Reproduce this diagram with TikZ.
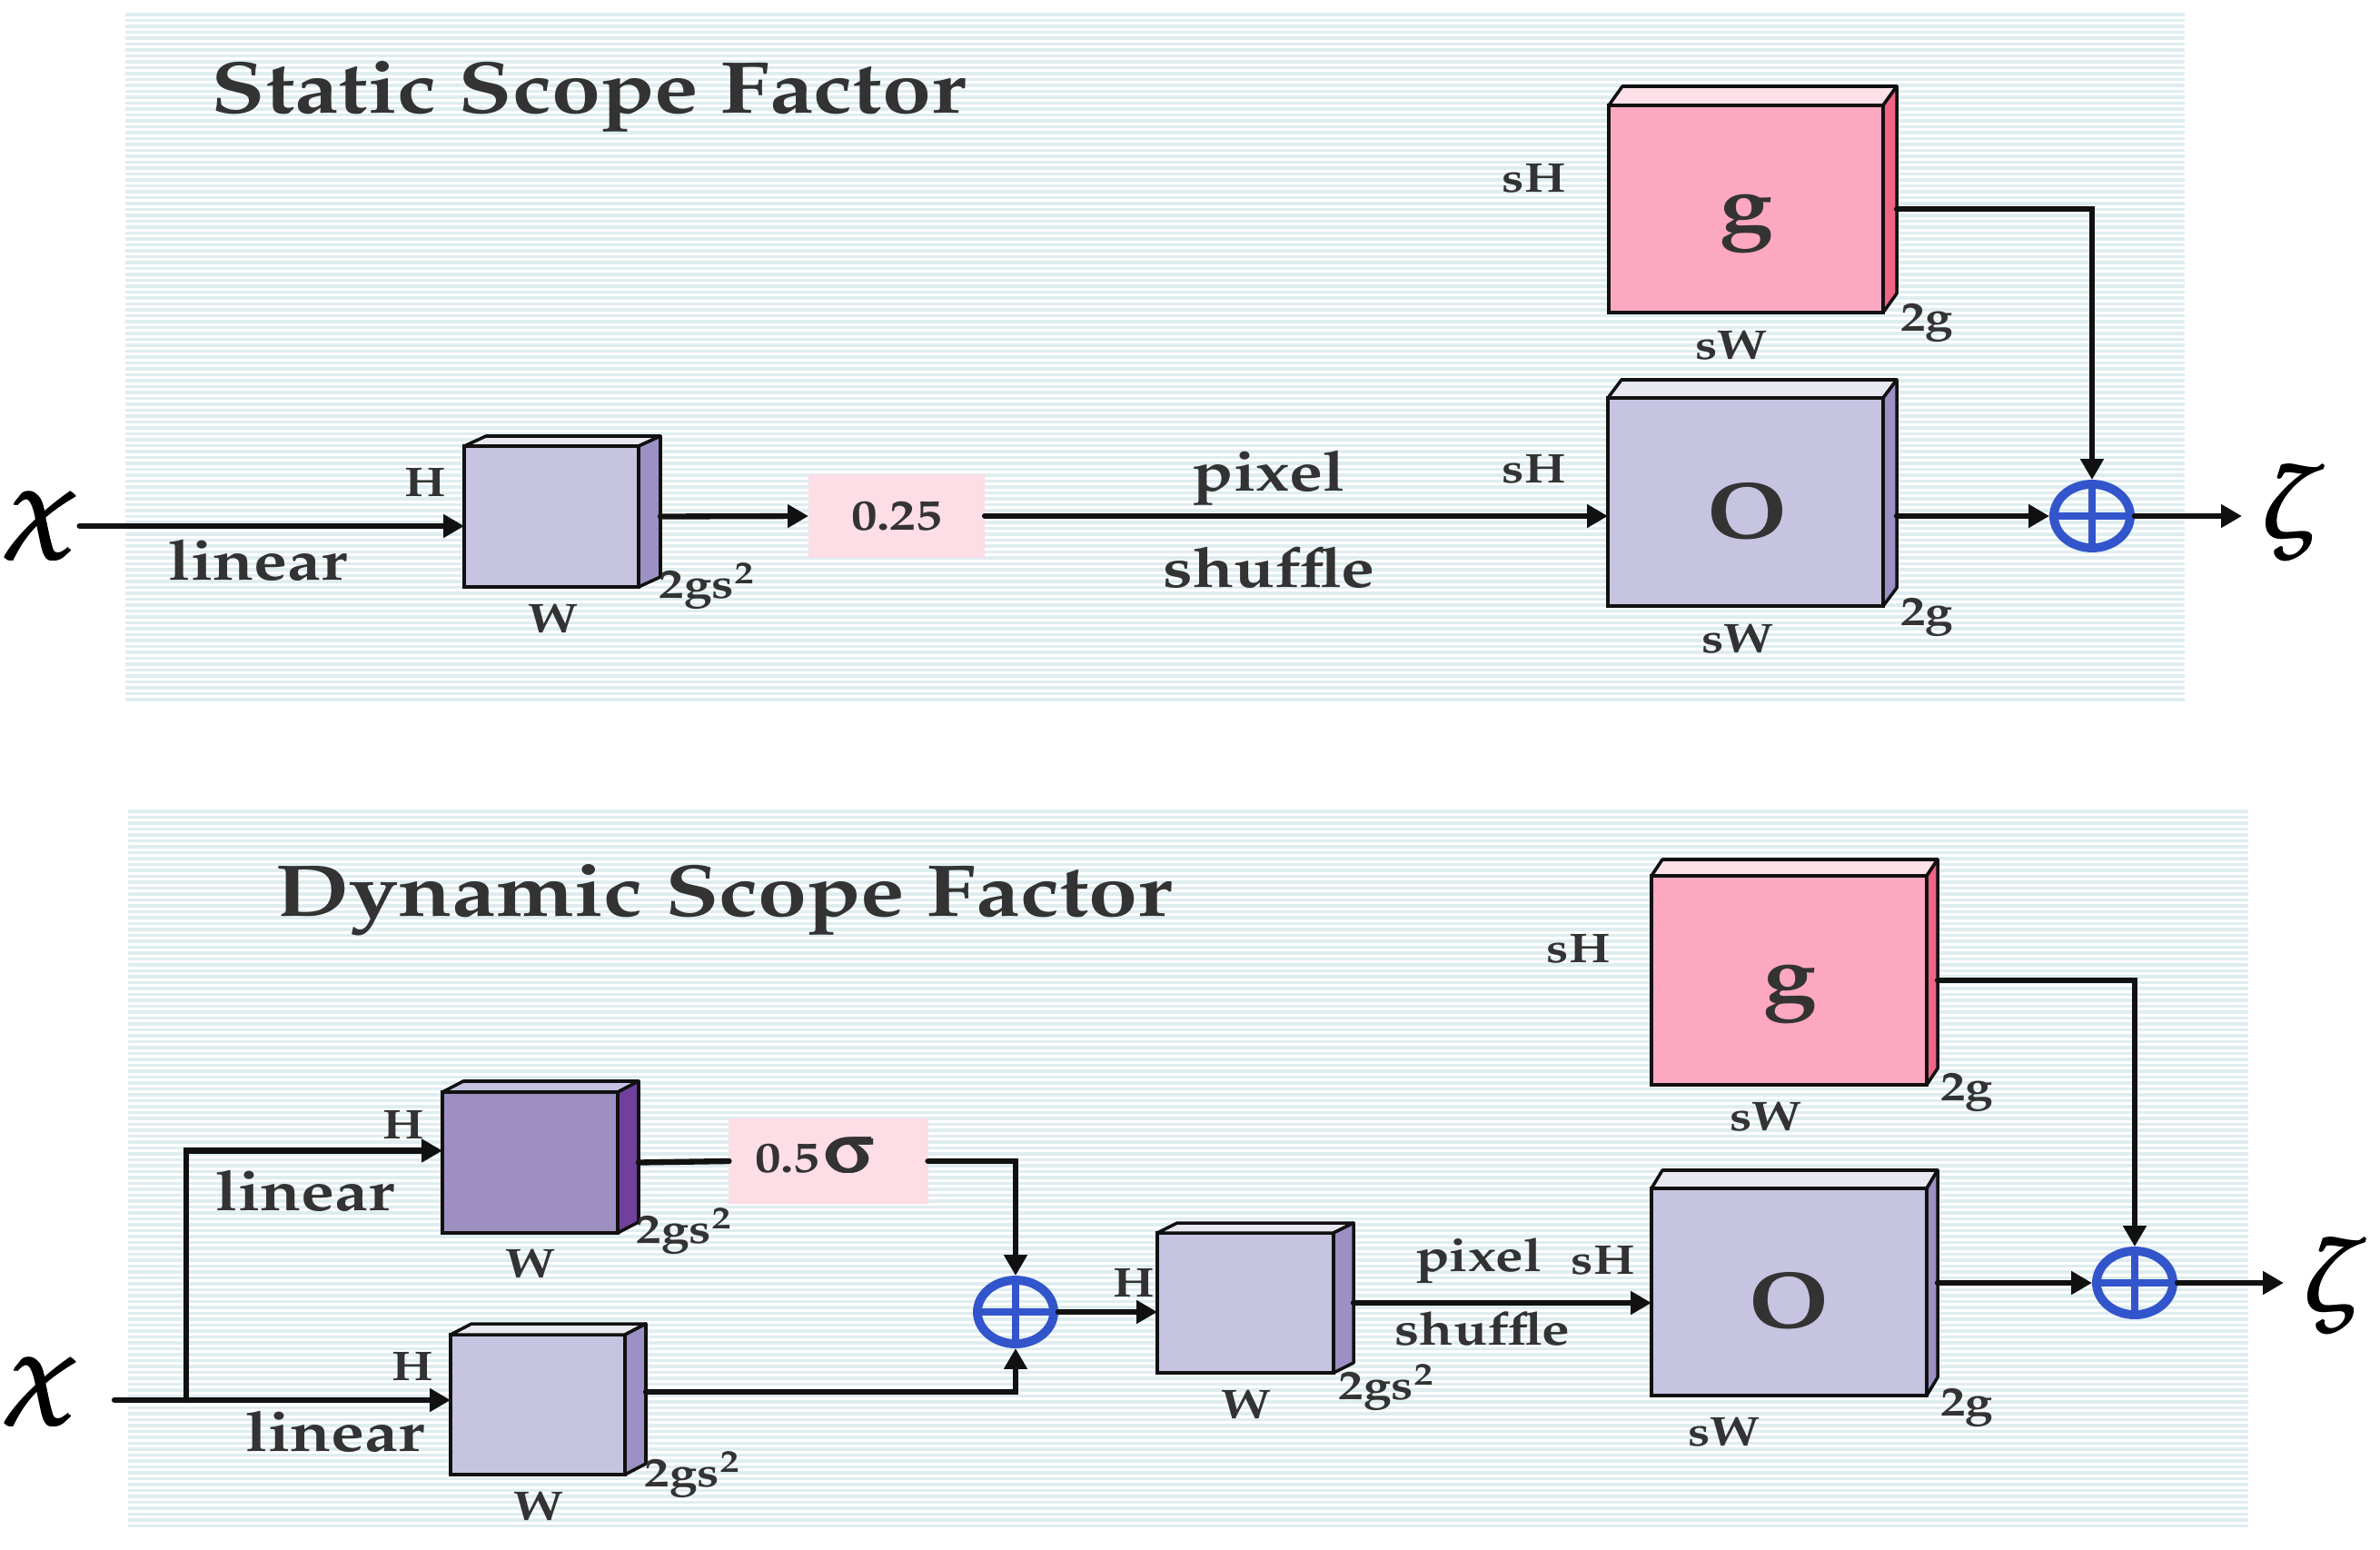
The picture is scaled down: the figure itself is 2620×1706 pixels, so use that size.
\documentclass[tikz,border=0pt]{standalone}
\usepackage[T1]{fontenc}
\usepackage{mathpazo}
\usepackage[Symbol]{upgreek}
\usetikzlibrary{shapes.geometric,arrows.meta,calc}
\definecolor{txc}{HTML}{333333}
\definecolor{lnc}{HTML}{111111}
\definecolor{stripec}{HTML}{DFEDF0}
\definecolor{boxpink}{HTML}{FDDDE6}
\definecolor{opblue}{HTML}{3355CC}
\definecolor{Lfront}{HTML}{C6C4E0}
\definecolor{Ltop}{HTML}{E8E8F0}
\definecolor{Lside}{HTML}{9C90C4}
\definecolor{Dfront}{HTML}{9D8FC0}
\definecolor{Dtop}{HTML}{C6C4E0}
\definecolor{Dside}{HTML}{70409C}
\definecolor{Pfront}{HTML}{FCA8C0}
\definecolor{Ptop}{HTML}{FDE0E8}
\definecolor{Pside}{HTML}{F06484}
\newcommand\hs[1]{\scalebox{1.2}[1]{#1}}
\newcommand\emb[1]{\makebox[0pt][l]{#1}\makebox[0pt][l]{\kern0.6pt#1}\makebox[0pt][l]{\raisebox{0.5pt}{\kern0.3pt#1}}\makebox[0pt][l]{\raisebox{-0.2pt}{\kern0.3pt#1}}\kern0.6pt#1}
\newcommand\mkcube[8]{%
  \node[cubefront, fill=#1front, minimum width=#5*0.01cm, minimum height=#6*0.01cm, anchor=north west] (#2) at (#3,#4) {};
  \filldraw[cubeedge, fill=#1top] (#2.north west) -- ++(#7,-#8) -- ++(#5,0) -- (#2.north east) -- cycle;
  \filldraw[cubeedge, fill=#1side] (#2.north east) -- ++(#7,-#8) -- ++(0,#6) -- (#2.south east) -- cycle;
  \coordinate (#2s) at ($(#2.east)+(#7,0)$);
}
\begin{document}
\begin{tikzpicture}[x=0.01cm,y=-0.01cm,
  arr/.style={line width=1.8pt, draw=lnc, line cap=round, -{Triangle[length=6.5pt,width=7pt]}},
  ln/.style={line width=1.8pt, draw=lnc, line cap=round},
  stripe/.style={draw=stripec, line width=0.95pt},
  cubefront/.style={draw=lnc, line width=1pt, inner sep=0pt, outer sep=0pt},
  cubeedge/.style={draw=lnc, line width=1pt, line join=round},
  lab/.style={text=txc, font=\bfseries\fontsize{13}{15}\selectfont, inner sep=0pt},
  mid/.style={text=txc, font=\bfseries\fontsize{17.5}{20}\selectfont, inner sep=0pt},
  midb/.style={text=txc, font=\bfseries\fontsize{14.5}{17}\selectfont, inner sep=0pt},
  ttl/.style={text=txc, font=\bfseries\fontsize{23}{26}\selectfont, inner sep=0pt},
  big/.style={text=txc, font=\bfseries\fontsize{25}{28}\selectfont, inner sep=0pt},
  num/.style={text=txc, font=\bfseries\fontsize{13.5}{15}\selectfont, inner sep=0pt},
  gkin/.style={text=black, font=\fontsize{30}{32}\selectfont, inner sep=0pt},
  gkout/.style={text=black, font=\fontsize{32}{34}\selectfont, inner xsep=0.2cm, inner ysep=0pt},
  mulbox/.style={fill=boxpink, inner sep=0pt, outer sep=0pt},
  oplus/.style={ellipse, draw=opblue, line width=2.8pt, minimum width=0.84cm, minimum height=0.70cm, inner sep=0pt, outer sep=1.4pt},
  cross/.style={draw=opblue, line width=2.4pt},
]
\useasboundingbox (0,0) rectangle (2620,1706);
% backgrounds
\foreach \i in {0,...,116} \draw[stripe] (138,{16+6.5*\i}) -- (2405,{16+6.5*\i});
\foreach \i in {0,...,121} \draw[stripe] (141,{893+6.5*\i}) -- (2475,{893+6.5*\i});

% ================= TOP PANEL =================
\node[ttl, anchor=base west] (t1) at (232,125) {\hs{Static Scope Factor}};
\node[gkin] (chi1) at (46,579) {\hs{\emb{$\chi$}}};
\mkcube{L}{A}{511}{491}{192}{155}{24}{11}
\node[lab] (A-H) at (468,531) {\hs{H}};
\node[lab] (A-W) at (609,681) {\hs{W}};
\node[lab] (A-C) at (779,645) {\hs{2gs$^{\mathbf 2}$}};
\node[mid] (lin1) at (284,617) {\hs{linear}};
\node[mulbox, minimum width=1.94cm, minimum height=0.92cm] (box1) at (987,568) {};
\node[num] (box1t) at (987,568) {\hs{0.25}};
\node[mid] (pix1) at (1397,526) {\hs{pixel}};
\node[mid] (shu1) at (1397,625) {\hs{shuffle}};
\mkcube{L}{O1}{1770}{438}{303}{229}{15}{20}
\node[big] (O1t) at (1923,562) {\hs{O}};
\node[lab] (O1-H) at (1689,516) {\hs{sH}};
\node[lab] (O1-W) at (1913,703) {\hs{sW}};
\node[lab] (O1-C) at (2121,679) {\hs{2g}};
\mkcube{P}{G1}{1771}{116}{302}{228}{15}{21}
\node[big] (G1t) at (1923,245) {\hs{g}};
\node[lab] (G1-H) at (1689,196) {\hs{sH}};
\node[lab] (G1-W) at (1906,380) {\hs{sW}};
\node[lab] (G1-C) at (2121,355) {\hs{2g}};
\node[oplus] (op1) at (2303,568) {};
\draw[cross] (op1.north) -- (op1.south) (op1.west) -- (op1.east);
\node[gkout] (z1) at (2525,564) {\hs{\emb{$\zeta$}}};
\draw[arr] (chi1.east) -- (chi1.east -| A.west);
\draw[arr] (As) -- (box1.west);
\draw[arr] (box1.east) -- (box1.east -| O1.west);
\draw[arr] (G1s) -| (op1.north);
\draw[arr] (op1.west -| O1s) -- (op1.west);
\draw[arr] (op1.east) -- (op1.east -| z1.west);

% ================= BOTTOM PANEL =================
\node[ttl, anchor=base west] (t2) at (303,1008) {\hs{Dynamic Scope Factor}};
\node[gkin] (chi2) at (46,1532) {\hs{\emb{$\chi$}}};
\mkcube{D}{B}{487}{1202}{193}{155}{23}{12}
\node[lab] (B-H) at (444,1238) {\hs{H}};
\node[lab] (B-W) at (584,1391) {\hs{W}};
\node[lab] (B-C) at (754,1355) {\hs{2gs$^{\mathbf 2}$}};
\node[mid] (lin2) at (336,1311) {\hs{linear}};
\mkcube{L}{C}{496}{1469}{192}{154}{23}{12}
\node[lab] (C-H) at (454,1504) {\hs{H}};
\node[lab] (C-W) at (593,1658) {\hs{W}};
\node[lab] (C-C) at (763,1623) {\hs{2gs$^{\mathbf 2}$}};
\node[mid] (lin3) at (369,1576) {\hs{linear}};
\node[mulbox, minimum width=2.19cm, minimum height=0.93cm] (box2) at (912,1278) {};
\node[num, anchor=base east] (box2a) at (903,1290) {\hs{0.5}};
\node[text=txc, inner sep=0pt, font=\fontsize{21}{22}\selectfont, anchor=base west] (box2b) at (906,1290) {\hs{\emb{$\upsigma$}}};
\node[oplus] (op2) at (1118,1444) {};
\draw[cross] (op2.north) -- (op2.south) (op2.west) -- (op2.east);
\mkcube{L}{D}{1274}{1357}{194}{154}{22}{11}
\node[lab] (D-H) at (1248,1412) {\hs{H}};
\node[lab] (D-W) at (1372,1546) {\hs{W}};
\node[lab] (D-C) at (1527,1527) {\hs{2gs$^{\mathbf 2}$}};
\node[midb] (pix2) at (1628,1388) {\hs{pixel}};
\node[midb] (shu2) at (1632,1462) {\hs{shuffle}};
\mkcube{L}{O2}{1818}{1308}{303}{228}{12}{20}
\node[big] (O2t) at (1969,1431) {\hs{O}};
\node[lab] (O2-H) at (1765,1387) {\hs{sH}};
\node[lab] (O2-W) at (1898,1576) {\hs{sW}};
\node[lab] (O2-C) at (2165,1549) {\hs{2g}};
\mkcube{P}{G2}{1818}{964}{303}{230}{12}{18}
\node[big] (G2t) at (1971,1093) {\hs{g}};
\node[lab] (G2-H) at (1738,1044) {\hs{sH}};
\node[lab] (G2-W) at (1944,1229) {\hs{sW}};
\node[lab] (G2-C) at (2165,1202) {\hs{2g}};
\node[oplus] (op3) at (2350,1412) {};
\draw[cross] (op3.north) -- (op3.south) (op3.west) -- (op3.east);
\node[gkout] (z2) at (2571,1415) {\hs{\emb{$\zeta$}}};
\coordinate (in2) at (126,1541);
\coordinate (br2) at (205,1541);
\draw[arr] (in2) -- (in2 -| C.west);
\draw[arr] (br2) |- ([yshift=0.13cm]B.west);
\draw[ln] (Bs) -- (box2.west);
\draw[arr] (box2.east) -| (op2.north);
\draw[arr] ([yshift=0.14cm]Cs) -| (op2.south);
\draw[arr] (op2.east) -- (op2.east -| D.west);
\draw[arr] (Ds) -- (Ds -| O2.west);
\draw[arr] (G2s) -| (op3.north);
\draw[arr] (op3.west -| O2s) -- (op3.west);
\draw[arr] (op3.east) -- (op3.east -| z2.west);
\end{tikzpicture}
\end{document}
